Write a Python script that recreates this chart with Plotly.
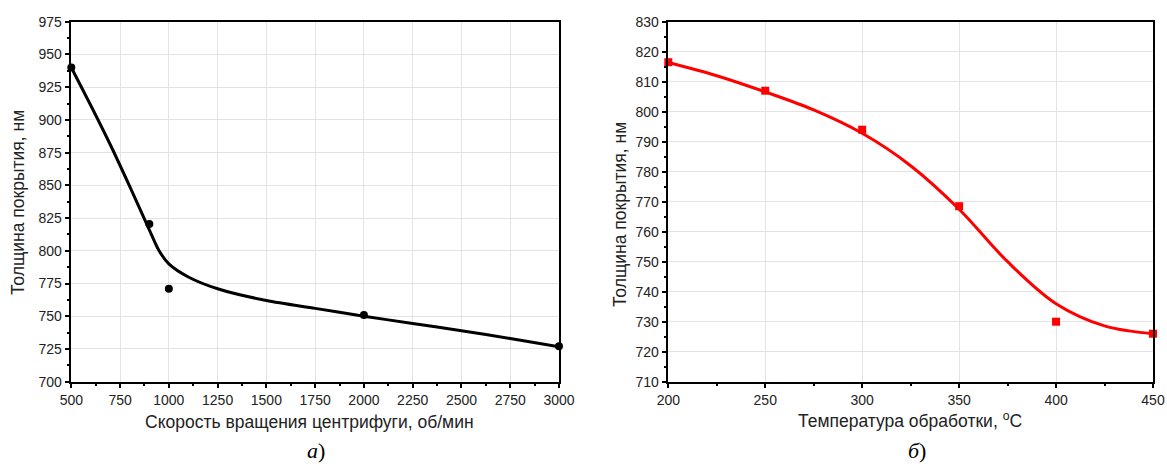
import plotly.graph_objects as go

W, H = 1167, 464

# ---- Data: panel a) ----
speed_pts = [500, 900, 1000, 2000, 3000]
thick_a_pts = [940, 820.5, 771, 751, 727]
speed_fit = [500, 600, 700, 800, 900, 950, 1000, 1100, 1250, 1500, 1750, 2000, 2250, 2500, 2750, 3000]
thick_a_fit = [940, 911, 881, 849, 816, 800, 790, 780, 771, 762, 756, 750, 744.5, 739, 733, 726.7]

# ---- Data: panel б) ----
temp_pts = [200, 250, 300, 350, 400, 450]
thick_b_pts = [816.5, 807, 794, 768.5, 730, 726]
temp_fit = [200, 225, 250, 275, 300, 325, 350, 375, 400, 425, 450]
thick_b_fit = [816.4, 812, 806.6, 800.6, 792.8, 782, 767.5, 750, 736, 728.6, 726]

xa_ticks = list(range(500, 3001, 250))
ya_ticks = list(range(700, 976, 25))
xb_ticks = list(range(200, 451, 50))
yb_ticks = list(range(710, 831, 10))

fig = go.Figure()
fig.add_trace(go.Scatter(x=speed_fit, y=thick_a_fit, mode="lines",
                         line=dict(color="black", width=3, shape="spline", smoothing=0.8),
                         xaxis="x", yaxis="y", showlegend=False, cliponaxis=False))
fig.add_trace(go.Scatter(x=speed_pts, y=thick_a_pts, mode="markers", marker=dict(color="black", size=8, symbol="circle"),
                         xaxis="x", yaxis="y", showlegend=False, cliponaxis=False))
fig.add_trace(go.Scatter(x=temp_fit, y=thick_b_fit, mode="lines",
                         line=dict(color="#ff0000", width=3, shape="spline", smoothing=1),
                         xaxis="x2", yaxis="y2", showlegend=False, cliponaxis=False))
fig.add_trace(go.Scatter(x=temp_pts, y=thick_b_pts, mode="markers", marker=dict(color="#ff0000", size=8, symbol="square"),
                         xaxis="x2", yaxis="y2", showlegend=False, cliponaxis=False))

def px(x):
    return x / W

def py(y):
    return 1 - y / H

tick_font = dict(family="Liberation Sans, Arial", size=14, color="#222")
common = dict(showline=True, linecolor="black", linewidth=1.5, mirror=True, ticks="outside", ticklen=5,
              tickwidth=1.5, tickcolor="black", showgrid=True, gridcolor="#e3e3e3", gridwidth=1,
              zeroline=False, tickfont=tick_font, automargin=False)

ydom = [py(381.7), py(21.7)]
fig.update_layout(
    width=W, height=H, margin=dict(l=0, r=0, t=0, b=0),
    paper_bgcolor="white", plot_bgcolor="white",
    xaxis=dict(domain=[px(71.3), px(559)], range=[500, 3000], tickvals=xa_ticks, anchor="y",
               minor=dict(ticks="outside", ticklen=3, tickwidth=1.5, tickcolor="black", dtick=125, tick0=500, showgrid=False),
               **common),
    yaxis=dict(domain=ydom, range=[700, 975], tickvals=ya_ticks, anchor="x",
               minor=dict(ticks="outside", ticklen=3, tickwidth=1.5, tickcolor="black", dtick=12.5, tick0=700, showgrid=False),
               **common),
    xaxis2=dict(domain=[px(668.3), px(1153)], range=[200, 450], tickvals=xb_ticks, anchor="y2",
                minor=dict(ticks="outside", ticklen=3, tickwidth=1.5, tickcolor="black", dtick=25, tick0=200, showgrid=False),
                **common),
    yaxis2=dict(domain=ydom, range=[710, 830], tickvals=yb_ticks, anchor="x2",
                minor=dict(ticks="outside", ticklen=3, tickwidth=1.5, tickcolor="black", dtick=5, tick0=710, showgrid=False),
                **common),
)

title_font = dict(family="Liberation Sans, Arial", size=17.5, color="#222")
cap_font = dict(family="Liberation Serif, Times New Roman", size=22, color="black")
ann = [
    dict(text="Толщина покрытия, нм", x=px(18), y=py(203), textangle=-90, font=title_font),
    dict(text="Скорость вращения центрифуги, об/мин", x=px(309), y=py(422), font=title_font),
    dict(text="<i>а</i>)", x=px(316), y=py(450), font=cap_font, borderpad=0),
    dict(text="Толщина покрытия, нм", x=px(620), y=py(215), textangle=-90, font=title_font),
    dict(text="Температура обработки, <sup>o</sup>C", x=px(910), y=py(420), font=title_font),
    dict(text="<i>б</i>)", x=px(917), y=py(450), font=cap_font, borderpad=0),
]
for a in ann:
    fig.add_annotation(xref="paper", yref="paper", showarrow=False, xanchor="center", yanchor="middle", **a)

fig.write_html("out.html")
